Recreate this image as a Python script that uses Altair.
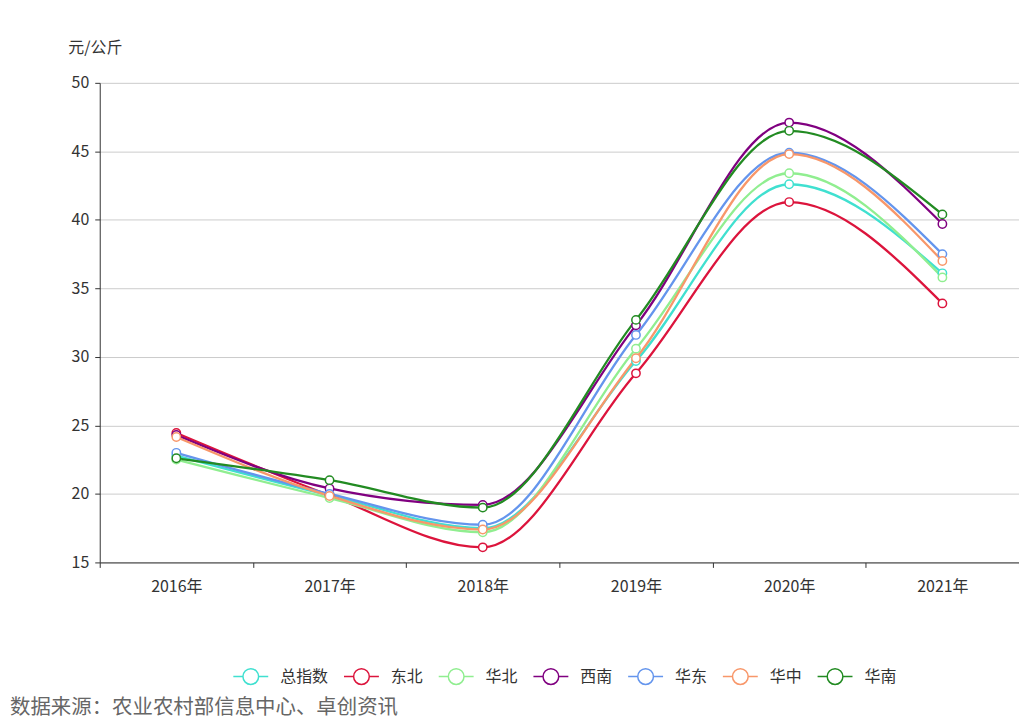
import altair as alt
import pandas as pd

years = ["2016年", "2017年", "2018年", "2019年", "2020年", "2021年"]
series = ["总指数", "东北", "华北", "西南", "华东", "华中", "华南"]
v_total = [22.8, 19.9, 17.5, 29.7, 42.6, 36.1]
v_northeast = [24.45, 19.9, 16.1, 28.8, 41.3, 33.9]
v_north = [22.5, 19.7, 17.2, 30.6, 43.4, 35.8]
v_southwest = [24.3, 20.4, 19.2, 32.3, 47.1, 39.7]
v_east = [23.0, 20.0, 17.75, 31.6, 44.9, 37.5]
v_central = [24.15, 19.85, 17.4, 29.9, 44.8, 37.0]
v_south = [22.6, 21.0, 19.0, 32.7, 46.5, 40.4]
colors = ["#40E0D0", "#DC143C", "#90EE90", "#800080", "#6495ED", "#F8976A", "#228B22"]
y_ticks = [15, 20, 25, 30, 35, 40, 45, 50]

values = [v_total, v_northeast, v_north, v_southwest, v_east, v_central, v_south]
rows = []
for s, vals in zip(series, values):
    for yr, v in zip(years, vals):
        rows.append({"year": yr, "region": s, "price": v})
df = pd.DataFrame(rows)

FONT = "Noto Sans CJK SC"
legend_path = ("M-1,0L-0.45,0M0.45,0L1,0"
               "M0.45,0A0.45,0.45,0,1,1,-0.45,0A0.45,0.45,0,1,1,0.45,0")

x_enc = alt.X("year:N", sort=years,
              scale=alt.Scale(type="band", paddingInner=0, paddingOuter=0),
              axis=alt.Axis(title=None, tickBand="extent", labelAngle=0,
                            labelFontSize=16, labelColor="#333", labelFont=FONT,
                            domainColor="#333", tickColor="#333", tickSize=5,
                            labelPadding=11, grid=False))
y_enc = alt.Y("price:Q",
              scale=alt.Scale(domain=[15, 50], nice=False, zero=False),
              axis=alt.Axis(title="元/公斤", titleAngle=0, titleAlign="left",
                            titleBaseline="middle", titleX=-32, titleY=-35,
                            titleFontSize=16, titleFontWeight="normal",
                            titleColor="#333", titleFont=FONT,
                            values=y_ticks, labelFontSize=16, labelColor="#333",
                            labelFont=FONT, labelPadding=6,
                            domainColor="#333", tickColor="#333", tickSize=5,
                            gridColor="#cccccc", grid=True))
color_enc = alt.Color("region:N",
                      scale=alt.Scale(domain=series, range=colors),
                      legend=alt.Legend(orient="none", legendX=133, legendY=577,
                                        direction="horizontal", columns=7,
                                        gridAlign="none",
                                        title=None, symbolType=legend_path,
                                        symbolSize=1225, symbolStrokeWidth=1.5,
                                        symbolFillColor="white",
                                        labelFontSize=16, labelFont=FONT,
                                        labelColor="#333", labelOffset=11,
                                        columnPadding=12))

base = alt.Chart(df)
lines = base.mark_line(interpolate="monotone", strokeWidth=2.3).encode(
    x=x_enc, y=y_enc, color=color_enc, detail="region:N")
points = base.mark_point(shape="circle", filled=False, fill="white",
                         size=70, strokeWidth=1.5, opacity=1).encode(
    x=x_enc, y=y_enc,
    color=alt.Color("region:N", scale=alt.Scale(domain=series, range=colors), legend=None))

chart = alt.layer(lines, points).properties(
    width=922, height=481,
    autosize=alt.AutoSizeParams(type="none"),
    padding={"left": 92, "top": 74, "right": 0, "bottom": 158},
    title=alt.TitleParams(text="数据来源：农业农村部信息中心、卓创资讯",
                          orient="bottom", anchor="start", frame="group",
                          dx=-90, offset=10, fontSize=20.5, fontWeight="normal",
                          color="#666", font=FONT),
).configure_view(stroke=None)

chart.save("out.html", embed_options={"renderer": "svg", "actions": False})
